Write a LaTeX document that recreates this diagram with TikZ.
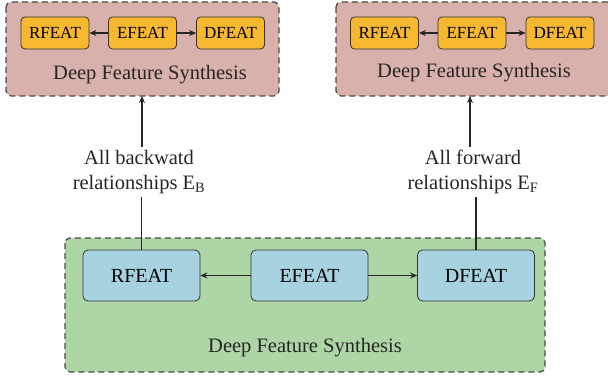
\documentclass[tikz,border=0pt]{standalone}
\usepackage{fontspec}
\setmainfont{Liberation Serif}
\usetikzlibrary{arrows.meta}
\definecolor{pinkfill}{HTML}{D9B1AC}
\definecolor{greenfill}{HTML}{ADD5A5}
\definecolor{orangefill}{HTML}{F6B731}
\definecolor{bluefill}{HTML}{A7D3E1}
\definecolor{dashgray}{HTML}{4A4A4A}
\tikzset{
  outerbox/.style={draw=dashgray, line width=1.3pt, dash pattern=on 6pt off 4pt, rounded corners=5pt},
  smallfeat/.style={draw=black!80, fill=orangefill, rounded corners=4pt, line width=0.8pt,
    minimum width=68pt, minimum height=32pt, inner sep=0pt, font=\fontsize{17}{20}\selectfont},
  bigfeat/.style={draw=black!80, fill=bluefill, rounded corners=5pt, line width=0.8pt,
    minimum width=117pt, minimum height=51pt, inner sep=0pt, font=\fontsize{20}{23}\selectfont},
  title/.style={font=\fontsize{20.5}{24}\selectfont, inner sep=0pt, text=black!85},
  lbl/.style={font=\fontsize{20.5}{25}\selectfont, align=center, inner sep=3pt, text=black!85},
  arr/.style={-{Stealth[length=7pt,width=6pt]}, line width=1.5pt, black!85},
  ln/.style={line width=1.5pt, black!85}
}
\begin{document}
\begin{tikzpicture}[x=1pt,y=-1pt]
\useasboundingbox (0,0) rectangle (608,377);
% top-left box
\draw[outerbox, fill=pinkfill] (6,2) rectangle (279,96);
\node[coordinate] (tlS) at (142,96) {};
\node[smallfeat] (tlR) at (55,33) {RFEAT};
\node[smallfeat] (tlE) at (142.5,33) {EFEAT};
\node[smallfeat] (tlD) at (230.5,33) {DFEAT};
\node[title] (tlT) at (150,75) {Deep Feature Synthesis};
\draw[arr] (tlE.west) -- (tlR.east);
\draw[arr] (tlE.east) -- (tlD.west);
% top-right box
\draw[outerbox, fill=pinkfill] (336,2) rectangle (614,96);
\node[coordinate] (trS) at (470,96) {};
\node[smallfeat] (trR) at (384.5,33) {RFEAT};
\node[smallfeat] (trE) at (472,33) {EFEAT};
\node[smallfeat] (trD) at (560,33) {DFEAT};
\node[title] (trT) at (474,73) {Deep Feature Synthesis};
\draw[arr] (trE.west) -- (trR.east);
\draw[arr] (trE.east) -- (trD.west);
% bottom box
\draw[outerbox, fill=greenfill] (65,238) rectangle (545,372);
\node[bigfeat] (bR) at (141.5,275.5) {RFEAT};
\node[bigfeat] (bE) at (309.5,275.5) {EFEAT};
\node[bigfeat] (bD) at (476,275.5) {DFEAT};
\node[title] (bT) at (305,348) {Deep Feature Synthesis};
\draw[arr] (bE.west) -- (bR.east);
\draw[arr] (bE.east) -- (bD.west);
% labels
\node[lbl] (lB) at (139,172) {All backwatd\\relationships E\textsubscript{B}};
\node[lbl] (lF) at (473,172) {All forward\\relationships E\textsubscript{F}};
\draw[arr] (lB.north -| tlS) -- (tlS);
\draw[ln] (bR.north) -- (bR.north |- lB.south);
\draw[arr] (lF.north -| trS) -- (trS);
\draw[ln] (bD.north) -- (bD.north |- lF.south);
\end{tikzpicture}
\end{document}
